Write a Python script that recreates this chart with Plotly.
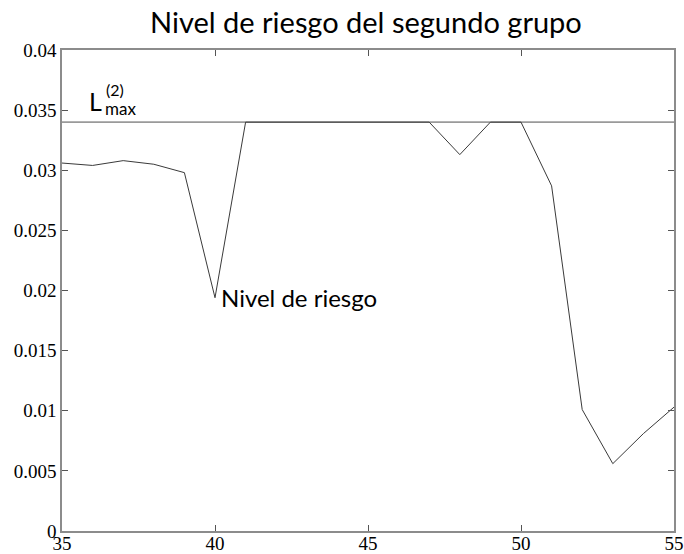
import plotly.graph_objects as go

# ---- data ----
edades = list(range(35, 56))
nivel_riesgo = [0.0306, 0.0304, 0.0308, 0.0305, 0.0298, 0.0194, 0.034, 0.034,
                0.034, 0.034, 0.034, 0.034, 0.034, 0.0313, 0.034, 0.034,
                0.0287, 0.0101, 0.0056, 0.0081, 0.0103]
l_max = 0.034
x_range = [35, 55]
y_range = [0, 0.04]
x_ticks = [35, 40, 45, 50, 55]
y_ticks = [0, 0.005, 0.01, 0.015, 0.02, 0.025, 0.03, 0.035, 0.04]
y_tick_text = ["0", "0.005", "0.01", "0.015", "0.02", "0.025", "0.03", "0.035", "0.04"]
titulo = "Nivel de riesgo del segundo grupo"
etiqueta_serie = "Nivel de riesgo"

fig = go.Figure()

fig.add_trace(go.Scatter(
    x=x_range, y=[l_max, l_max], mode="lines",
    line=dict(color="#9a9a9a", width=1.6), hoverinfo="skip", showlegend=False))

fig.add_trace(go.Scatter(
    x=edades, y=nivel_riesgo, mode="lines",
    line=dict(color="#3a3a3a", width=1), showlegend=False))

sans = "Lato, 'Open Sans', sans-serif"

fig.add_annotation(x=40, y=nivel_riesgo[5], xref="x", yref="y", text=etiqueta_serie,
                   showarrow=False, xanchor="left", yanchor="middle", xshift=4, yshift=0,
                   font=dict(family=sans, size=24, color="black"))

fig.add_annotation(x=35, y=l_max, xref="x", yref="y", text="L",
                   showarrow=False, xanchor="left", yanchor="bottom", xshift=25, yshift=4,
                   font=dict(family=sans, size=25, color="black"))
fig.add_annotation(x=35, y=l_max, xref="x", yref="y", text="(2)",
                   showarrow=False, xanchor="left", yanchor="bottom", xshift=42, yshift=21,
                   font=dict(family=sans, size=16, color="black"))
fig.add_annotation(x=35, y=l_max, xref="x", yref="y", text="max",
                   showarrow=False, xanchor="left", yanchor="bottom", xshift=41, yshift=1,
                   font=dict(family=sans, size=17, color="black"))

axis_common = dict(showline=True, linecolor="#8c8c8c", linewidth=1.5, mirror="ticks",
                   ticks="inside", ticklen=6, tickcolor="#555", tickwidth=1,
                   showgrid=False, zeroline=False, automargin=False,
                   tickfont=dict(family="'Liberation Serif', serif", size=19, color="black"))

fig.update_xaxes(range=x_range, tickvals=x_ticks, ticklabelstandoff=-6, **axis_common)
fig.update_yaxes(range=y_range, tickvals=y_ticks, ticktext=y_tick_text, **axis_common)

fig.update_layout(
    width=684, height=554,
    margin=dict(l=62, r=10, t=50, b=23),
    paper_bgcolor="white", plot_bgcolor="white",
    title=dict(text=titulo, x=0.535, xanchor="center", y=0.958, yanchor="middle",
               font=dict(family=sans, size=29, color="black")),
)

fig.write_html("out.html", config={"displayModeBar": False},
               post_script="document.body.style.margin='0';")
